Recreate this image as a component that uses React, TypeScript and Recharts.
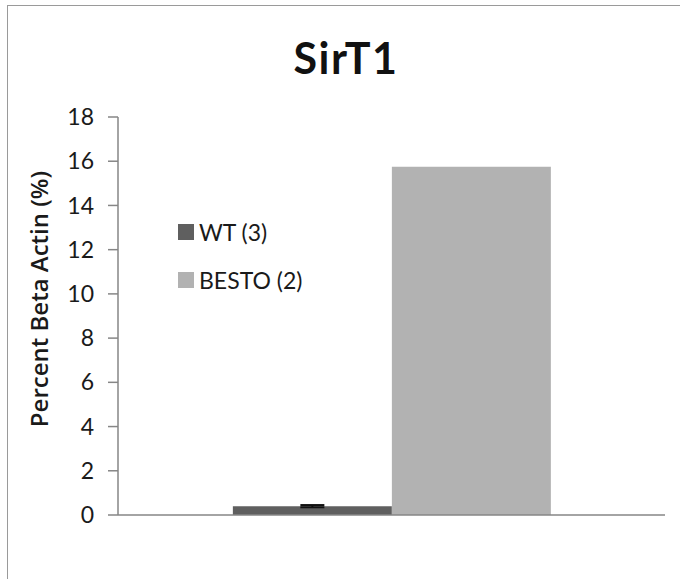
import { Bar, BarChart, ErrorBar, XAxis, YAxis } from "recharts";

const categories = ["SirT1"];
const wtValues = [0.4];
const wtErrors = [0.05];
const bestoValues = [15.75];
const yTicks = [0, 2, 4, 6, 8, 10, 12, 14, 16, 18];
const legendItems = [
  { label: "WT (3)", color: "#5f5f5f" },
  { label: "BESTO (2)", color: "#b2b2b2" },
];

const FONT = "Lato, 'Open Sans', sans-serif";
const AXIS = "#868686";
const TEXT = "#1a1a1a";

const rows = categories.map((c, i) => ({
  name: c,
  wt: wtValues[i],
  wtErr: wtErrors[i],
  besto: bestoValues[i],
}));

export default function App() {
  return (
    <div
      style={{
        position: "absolute",
        left: 0,
        top: 0,
        width: 680,
        height: 579,
        background: "#fff",
        overflow: "hidden",
      }}
    >
      <div
        style={{
          position: "absolute",
          left: 7,
          top: 5,
          width: 700,
          height: 600,
          border: "1px solid #9a9a9a",
        }}
      />
      <div
        style={{
          position: "absolute",
          left: 6,
          width: 680,
          top: 36,
          lineHeight: 1,
          textAlign: "center",
          fontFamily: FONT,
          fontWeight: 700,
          fontSize: 43,
          letterSpacing: 1.5,
          color: "#111",
        }}
      >
        SirT1
      </div>
      <BarChart
        width={680}
        height={579}
        data={rows}
        margin={{ top: 117, right: 15, left: 8, bottom: 0 }}
        barCategoryGap="21%"
        barGap={0}
        style={{ position: "absolute", left: 0, top: 0 }}
      >
        <XAxis dataKey="name" hide height={0} />
        <XAxis
          xAxisId="frame"
          type="number"
          domain={[0, 1]}
          ticks={[0, 1]}
          tick={false}
          tickSize={12}
          tickLine={{ stroke: AXIS, strokeWidth: 1.5 }}
          axisLine={{ stroke: AXIS, strokeWidth: 1.5 }}
          height={64}
        />
        <YAxis
          domain={[0, 18]}
          ticks={yTicks}
          width={110}
          tickSize={10}
          tickMargin={14}
          axisLine={{ stroke: AXIS, strokeWidth: 1.5 }}
          tickLine={{ stroke: AXIS, strokeWidth: 1.5 }}
          tick={{ fontFamily: FONT, fontSize: 23, fill: TEXT }}
          label={{
            value: "Percent Beta Actin (%)",
            angle: -90,
            position: "insideLeft",
            offset: 31,
            dy: -17,
            style: {
              textAnchor: "middle",
              fontFamily: "'Open Sans', sans-serif",
              fontWeight: 600,
              fontSize: 24,
              fill: TEXT,
            },
          }}
        />
        <Bar dataKey="wt" fill="#5f5f5f" isAnimationActive={false}>
          <ErrorBar dataKey="wtErr" width={12} stroke="#111" strokeWidth={2} />
        </Bar>
        <Bar dataKey="besto" fill="#b2b2b2" isAnimationActive={false} />
      </BarChart>
      <div
        style={{
          position: "absolute",
          left: 178,
          top: 208,
          fontFamily: FONT,
          fontSize: 23,
          color: TEXT,
        }}
      >
        {legendItems.map((it) => (
          <div key={it.label} style={{ display: "flex", alignItems: "center", height: 48 }}>
            <span style={{ width: 16, height: 16, background: it.color, marginRight: 5 }} />
            {it.label}
          </div>
        ))}
      </div>
    </div>
  );
}
